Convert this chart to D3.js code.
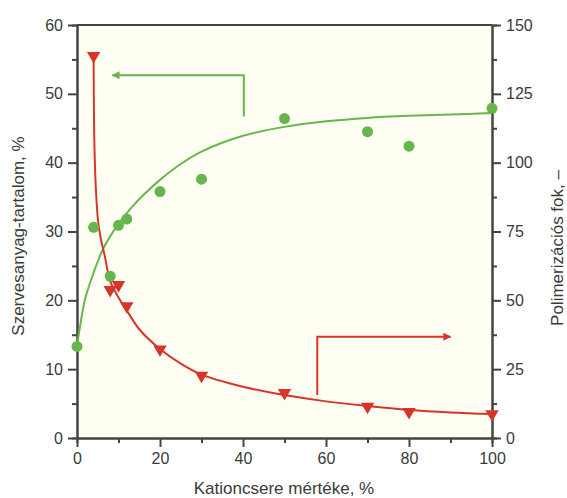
<!DOCTYPE html>
<html>
<head>
<meta charset="utf-8">
<script src="https://cdn.jsdelivr.net/npm/d3@7"></script>
<style>
  body { margin: 0; background: #fff; }
  svg text { font-family: "Liberation Sans", Arial, sans-serif; fill: #3a3a3a; }
</style>
</head>
<body>
<svg width="567" height="498"></svg>
<script>
// measured points: organic content (left axis, %)
const orgX = [0, 4, 8, 10, 12, 20, 30, 50, 70, 80, 100];
const orgY = [13.3, 30.6, 23.5, 30.9, 31.8, 35.8, 37.6, 46.4, 44.5, 42.4, 47.9];
// fitted line
const orgFitX = [0, 1, 2, 4, 6, 8, 10, 13, 16, 20, 25, 30, 40, 50, 60, 70, 80, 90, 100];
const orgFitY = [13.3, 17.2, 20.3, 24, 27.1, 29.3, 31.1, 33.4, 35.3, 37.5, 39.8, 41.6, 43.9, 45.2, 46, 46.5, 46.8, 47, 47.2];

// measured points: degree of polymerisation (right axis)
const dpX = [4, 8, 10, 12, 20, 30, 50, 70, 80, 100];
const dpY = [138.8, 53.8, 55.6, 47.9, 32.2, 22.7, 16.4, 11.4, 9.5, 8.7];
const dpFitX = [4, 4.15, 4.5, 5.1, 5.8, 6.7, 8, 10, 12, 15, 20, 25, 30, 40, 50, 60, 70, 80, 90, 100];
const dpFitY = [138.8, 110, 92, 78.5, 72, 66, 57, 51, 46.3, 39.5, 32.3, 27, 23, 18.6, 15.6, 13.3, 11.6, 10.2, 9.3, 8.7];

const xTicks = [0, 20, 40, 60, 80, 100];
const leftTicks = [0, 10, 20, 30, 40, 50, 60];
const rightTicks = [0, 25, 50, 75, 100, 125, 150];

const green = "#66b64e";
const red = "#d8352a";
const axisCol = "#444";

const L = 77, R = 492, T = 25, B = 438;
const svg = d3.select("svg");

const x = d3.scaleLinear().domain([0, 100]).range([L, R]);
const yL = d3.scaleLinear().domain([0, 60]).range([B, T]);
const yR = d3.scaleLinear().domain([0, 150]).range([B, T]);

svg.append("rect")
  .attr("x", L).attr("y", T)
  .attr("width", R - L).attr("height", B - T)
  .style("fill", "#fffef3");

// top frame line
svg.append("line")
  .attr("x1", L).attr("x2", R).attr("y1", T).attr("y2", T)
  .style("stroke", axisCol).style("stroke-width", 2);

function styleAxis(g) {
  g.select(".domain").style("stroke", axisCol).style("stroke-width", 2);
  g.selectAll(".tick line").style("stroke", axisCol).style("stroke-width", 2);
  g.selectAll("text").style("font-size", "16px").style("fill", "#3a3a3a");
}

// minor ticks first, then majors on top
svg.append("g").attr("transform", `translate(0,${B})`)
  .call(d3.axisBottom(x).tickValues(d3.range(10, 100, 20)).tickSize(5).tickFormat(""))
  .call(styleAxis);
svg.append("g").attr("transform", `translate(${L},0)`)
  .call(d3.axisLeft(yL).tickValues(d3.range(5, 60, 10)).tickSize(5).tickFormat(""))
  .call(styleAxis);
svg.append("g").attr("transform", `translate(${R},0)`)
  .call(d3.axisRight(yR).tickValues(d3.range(12.5, 150, 25)).tickSize(5).tickFormat(""))
  .call(styleAxis);

svg.append("g").attr("transform", `translate(0,${B})`)
  .call(d3.axisBottom(x).tickValues(xTicks).tickSize(9).tickPadding(6).tickSizeOuter(0))
  .call(styleAxis);
svg.append("g").attr("transform", `translate(${L},0)`)
  .call(d3.axisLeft(yL).tickValues(leftTicks).tickSize(9).tickPadding(5).tickSizeOuter(0))
  .call(styleAxis);
svg.append("g").attr("transform", `translate(${R},0)`)
  .call(d3.axisRight(yR).tickValues(rightTicks).tickSize(9).tickPadding(5).tickSizeOuter(0))
  .call(styleAxis);

// axis titles
svg.append("text")
  .attr("transform", "translate(24,236) rotate(-90)")
  .attr("text-anchor", "middle")
  .style("font-size", "17px")
  .text("Szervesanyag-tartalom, %");
svg.append("text")
  .attr("transform", "translate(563,248) rotate(-90)")
  .attr("text-anchor", "middle")
  .style("font-size", "17px")
  .text("Polimerizációs fok, –");
svg.append("text")
  .attr("x", 284).attr("y", 494)
  .attr("text-anchor", "middle")
  .style("font-size", "17px")
  .text("Kationcsere mértéke, %");

// fitted curves
const orgLine = d3.line().x(d => x(d[0])).y(d => yL(d[1])).curve(d3.curveCatmullRom.alpha(0.5));
const dpLine = d3.line().x(d => x(d[0])).y(d => yR(d[1])).curve(d3.curveCatmullRom.alpha(0.5));

svg.append("path")
  .attr("d", orgLine(d3.zip(orgFitX, orgFitY)))
  .style("fill", "none").style("stroke", green).style("stroke-width", 2);
svg.append("path")
  .attr("d", dpLine(d3.zip(dpFitX, dpFitY)))
  .style("fill", "none").style("stroke", red).style("stroke-width", 2);

// markers
svg.selectAll(".org").data(d3.zip(orgX, orgY)).join("circle")
  .attr("class", "org")
  .attr("cx", d => x(d[0])).attr("cy", d => yL(d[1]))
  .attr("r", 5.5)
  .style("fill", green);

const tri = d3.symbol().type(d3.symbolTriangle).size(78);
svg.selectAll(".dp").data(d3.zip(dpX, dpY)).join("path")
  .attr("class", "dp")
  .attr("d", tri)
  .attr("transform", d => `translate(${x(d[0])},${yR(d[1])}) rotate(180)`)
  .style("fill", red);

// arrows pointing to the axes
svg.append("defs").selectAll("marker")
  .data([["headG", green], ["headR", red]])
  .join("marker")
  .attr("id", d => d[0])
  .attr("viewBox", "0 0 10 10")
  .attr("refX", 9).attr("refY", 5)
  .attr("markerWidth", 12).attr("markerHeight", 8)
  .attr("markerUnits", "userSpaceOnUse")
  .attr("orient", "auto")
  .append("path")
  .attr("d", "M0,0 L10,5 L0,10 Z")
  .style("fill", d => d[1]);

svg.append("path")
  .attr("d", `M${x(40.2)},${yL(46.7)} V${yL(52.7)} H${x(8.5)}`)
  .style("fill", "none").style("stroke", green).style("stroke-width", 2)
  .attr("marker-end", "url(#headG)");
svg.append("path")
  .attr("d", `M${x(57.9)},${yR(15.6)} V${yR(36.8)} H${x(90)}`)
  .style("fill", "none").style("stroke", red).style("stroke-width", 2)
  .attr("marker-end", "url(#headR)");
</script>
</body>
</html>
